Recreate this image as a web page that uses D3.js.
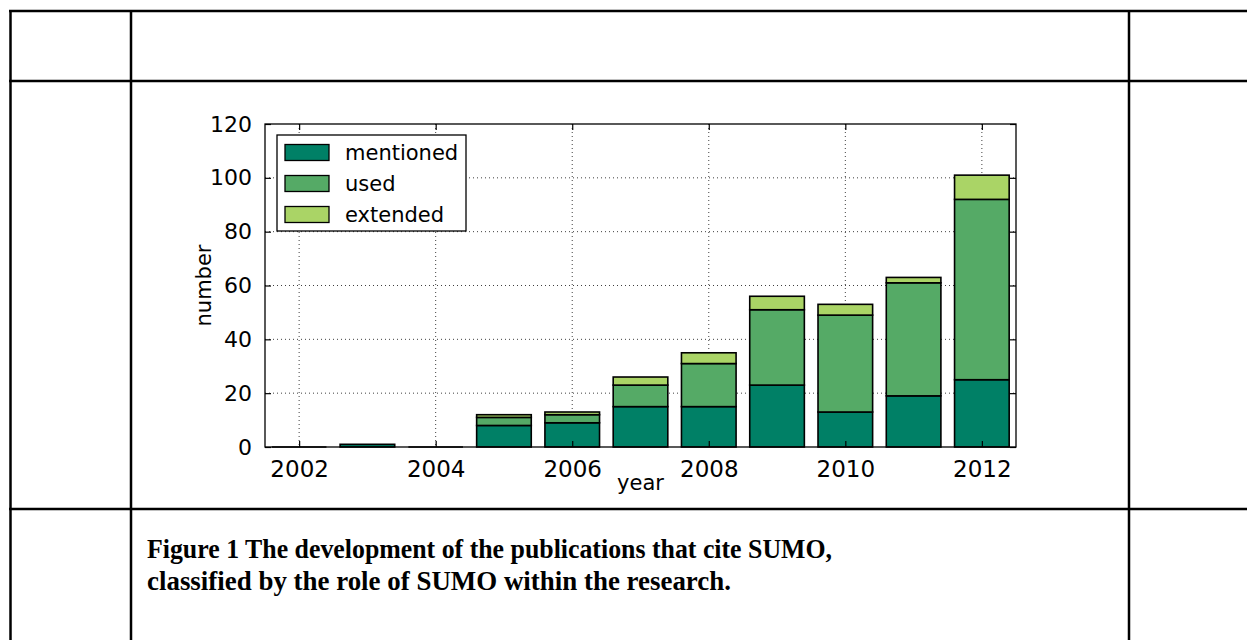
<!DOCTYPE html>
<html>
<head>
<meta charset="utf-8">
<script src="https://cdn.jsdelivr.net/npm/d3@7"></script>
<style>
  html, body { margin: 0; padding: 0; background: #fff; }
  svg { display: block; }
</style>
</head>
<body>
<svg id="chart" width="1247" height="640"></svg>
<script>
// ---- data ----
const years = [2002, 2003, 2004, 2005, 2006, 2007, 2008, 2009, 2010, 2011, 2012];
const mentioned = [0, 1, 0, 8, 9, 15, 15, 23, 13, 19, 25];
const used      = [0, 0, 0, 3, 3, 8, 16, 28, 36, 42, 67];
const extended  = [0, 0, 0, 1, 1, 3, 4, 5, 4, 2, 9];
const seriesNames = ["mentioned", "used", "extended"];
const seriesColors = ["#008066", "#55aa66", "#aad466"];
const yTicks = [0, 20, 40, 60, 80, 100, 120];
const xTicks = [2002, 2004, 2006, 2008, 2010, 2012];
const captionLines = [
  "Figure 1 The development of the publications that cite SUMO,",
  "classified by the role of SUMO within the research."
];

const svg = d3.select("#chart");
const W = 1247, H = 640;

// ---- table frame ----
const tbl = svg.append("g").attr("stroke", "#000").attr("stroke-width", 2.5);
tbl.append("line").attr("x1", 9).attr("x2", W).attr("y1", 11).attr("y2", 11);
tbl.append("line").attr("x1", 9).attr("x2", W).attr("y1", 81).attr("y2", 81);
tbl.append("line").attr("x1", 9).attr("x2", W).attr("y1", 509).attr("y2", 509);
tbl.append("line").attr("x1", 10.5).attr("x2", 10.5).attr("y1", 10).attr("y2", H);
tbl.append("line").attr("x1", 131).attr("x2", 131).attr("y1", 10).attr("y2", H);
tbl.append("line").attr("x1", 1129).attr("x2", 1129).attr("y1", 10).attr("y2", H);

// ---- chart ----
const L = 265, R = 1016, T = 124, B = 447;
const x = d3.scaleLinear().domain([2001.5, 2012.5]).range([L, R]);
const y = d3.scaleLinear().domain([0, 120]).range([B, T]);
const font = "'DejaVu Sans', sans-serif";

// grid
const grid = svg.append("g").attr("stroke", "#000").attr("stroke-width", 1)
  .attr("stroke-dasharray", "1,3").attr("opacity", 0.75);
yTicks.forEach(t => {
  if (t === 0 || t === 120) return;
  grid.append("line").attr("x1", L).attr("x2", R).attr("y1", y(t)).attr("y2", y(t));
});
xTicks.forEach(t => {
  grid.append("line").attr("x1", x(t)).attr("x2", x(t)).attr("y1", T).attr("y2", B);
});

// stacked bars
const rows = years.map((yr, i) => ({year: yr, mentioned: mentioned[i], used: used[i], extended: extended[i]}));
const stack = d3.stack().keys(seriesNames)(rows);
const bw = x(2002.4) - x(2001.6);
stack.forEach((layer, li) => {
  svg.append("g").selectAll("rect").data(layer).join("rect")
    .attr("x", d => x(d.data.year) - bw / 2)
    .attr("width", bw)
    .attr("y", d => y(d[1]))
    .attr("height", d => y(d[0]) - y(d[1]))
    .attr("fill", seriesColors[li])
    .attr("stroke", "#000")
    .attr("stroke-width", 1.6)
    .attr("display", d => (d[1] - d[0]) > 0 ? null : "none");
});
// zero-height bars drawn as baseline strokes
years.forEach((yr, i) => {
  if (mentioned[i] + used[i] + extended[i] === 0) {
    svg.append("line").attr("x1", x(yr) - bw / 2).attr("x2", x(yr) + bw / 2)
      .attr("y1", y(0)).attr("y2", y(0)).attr("stroke", "#000").attr("stroke-width", 1.6);
  }
});

// frame
svg.append("rect").attr("x", L).attr("y", T).attr("width", R - L).attr("height", B - T)
  .attr("fill", "none").attr("stroke", "#000").attr("stroke-width", 1.3);

// axes with inward ticks
const axL = d3.axisLeft(y).tickValues(yTicks).tickSize(-6).tickPadding(13);
const axR = d3.axisRight(y).tickValues(yTicks).tickSize(-6).tickFormat("");
const axB = d3.axisBottom(x).tickValues(xTicks).tickSize(-6).tickPadding(14).tickFormat(d3.format("d"));
const axT = d3.axisTop(x).tickValues(xTicks).tickSize(-6).tickFormat("");
function styleAxis(size) {
  return g => {
    g.select(".domain").remove();
    g.selectAll(".tick line").attr("stroke", "#000").attr("stroke-width", 1.2);
    g.selectAll("text").attr("font-family", font).attr("font-size", size).attr("fill", "#000");
  };
}
svg.append("g").attr("transform", `translate(${L},0)`).call(axL).call(styleAxis(22));
svg.append("g").attr("transform", `translate(${R},0)`).call(axR).call(styleAxis(22));
svg.append("g").attr("transform", `translate(0,${B})`).call(axB).call(styleAxis(23));
svg.append("g").attr("transform", `translate(0,${T})`).call(axT).call(styleAxis(23));

// axis labels
svg.append("text").attr("x", (L + R) / 2).attr("y", 490).attr("text-anchor", "middle")
  .attr("font-family", font).attr("font-size", 21).text("year");
svg.append("text").attr("transform", `translate(211,${(T + B) / 2}) rotate(-90)`)
  .attr("text-anchor", "middle").attr("font-family", font).attr("font-size", 21).text("number");

// legend
const lg = svg.append("g");
lg.append("rect").attr("x", 277).attr("y", 135).attr("width", 189).attr("height", 96)
  .attr("fill", "#fff").attr("stroke", "#000").attr("stroke-width", 1.3);
seriesNames.forEach((n, i) => {
  const cy = 152.5 + i * 31;
  lg.append("rect").attr("x", 285).attr("y", cy - 8).attr("width", 44).attr("height", 16)
    .attr("fill", seriesColors[i]).attr("stroke", "#000").attr("stroke-width", 1.3);
  lg.append("text").attr("x", 345).attr("y", cy + 7.5).attr("font-family", font)
    .attr("font-size", 21).text(n);
});

// caption
const capLens = [685, 584];
captionLines.forEach((s, i) => {
  svg.append("text").attr("x", 147).attr("y", 558 + i * 32)
    .attr("font-family", "'Liberation Serif', 'Times New Roman', serif")
    .attr("font-weight", "bold").attr("font-size", 26.5)
    .attr("textLength", capLens[i]).attr("lengthAdjust", "spacingAndGlyphs")
    .text(s);
});
</script>
</body>
</html>
